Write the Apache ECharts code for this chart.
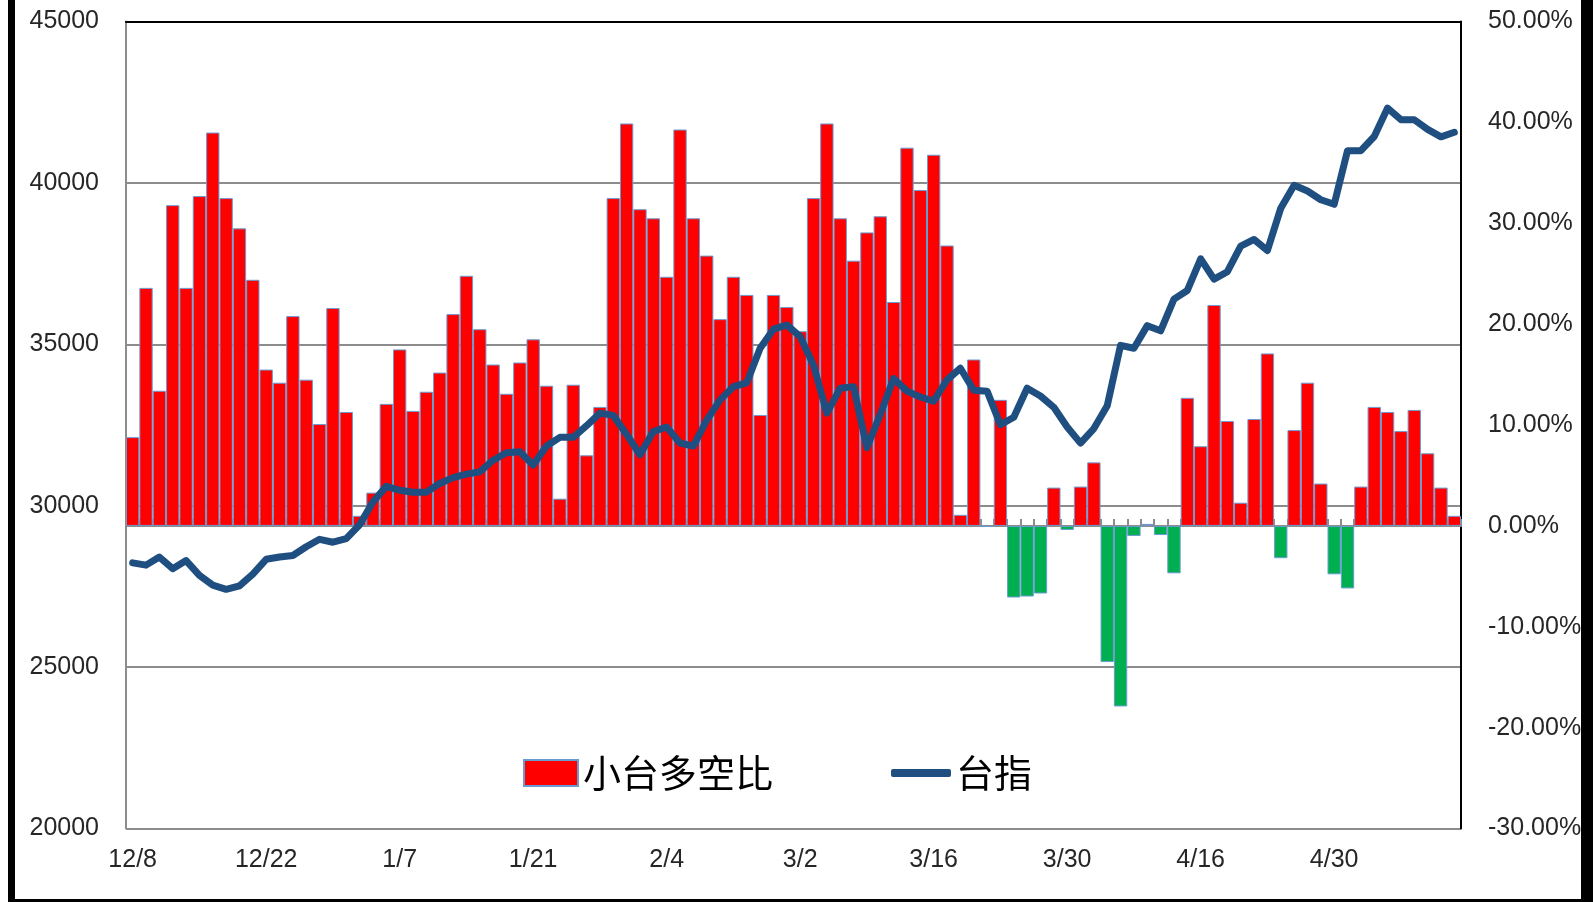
<!DOCTYPE html>
<html>
<head>
<meta charset="utf-8">
<title>小台多空比 vs 台指</title>
<script src="https://cdn.jsdelivr.net/npm/echarts@6/dist/echarts.min.js"></script>
<style>
  html, body { margin: 0; padding: 0; background: #fff; }
  #chart { position: absolute; left: 0; top: 0; width: 1593px; height: 902px; }
  /* outer frame: black on left, bottom and right */
  .frame { position: absolute; background: #000; pointer-events: none; }
</style>
</head>
<body>
<div id="chart"></div>
<div class="frame" style="left:8px; top:0; width:7px; height:902px;"></div>
<div class="frame" style="left:8px; top:899px; width:1585px; height:3px;"></div>
<div class="frame" style="left:1581px; top:0; width:12px; height:902px;"></div>
<script>
// trading days (category axis), a label every 10th day
const dates = [
  "12/8", "12/9", "12/10", "12/11", "12/12",
  "12/15", "12/16", "12/17", "12/18", "12/19",
  "12/22", "12/23", "12/24", "12/25", "12/26",
  "12/29", "12/30", "12/31", "1/5", "1/6",
  "1/7", "1/8", "1/9", "1/12", "1/13",
  "1/14", "1/15", "1/16", "1/19", "1/20",
  "1/21", "1/22", "1/23", "1/26", "1/27",
  "1/28", "1/29", "1/30", "2/2", "2/3",
  "2/4", "2/5", "2/6", "2/9", "2/10",
  "2/11", "2/23", "2/24", "2/25", "2/26",
  "3/2", "3/3", "3/4", "3/5", "3/6",
  "3/9", "3/10", "3/11", "3/12", "3/13",
  "3/16", "3/17", "3/18", "3/19", "3/20",
  "3/23", "3/24", "3/25", "3/26", "3/27",
  "3/30", "3/31", "4/1", "4/7", "4/8",
  "4/9", "4/10", "4/13", "4/14", "4/15",
  "4/16", "4/17", "4/20", "4/21", "4/22",
  "4/23", "4/24", "4/27", "4/28", "4/29",
  "4/30", "5/4", "5/5", "5/6", "5/7",
  "5/8", "5/11", "5/12", "5/13", "5/14"
];

// 小台多空比 (%), right axis
const ratio = [
  8.8, 23.6, 13.4, 31.8, 23.6, 32.7, 39.0, 32.5, 29.5, 24.4,
  15.5, 14.2, 20.8, 14.5, 10.1, 21.6, 11.3, 1.0, 3.3, 12.1,
  17.5, 11.4, 13.3, 15.2, 21.0, 24.8, 19.5, 16.0, 13.1, 16.2,
  18.5, 13.9, 2.7, 14.0, 7.0, 11.8, 32.5, 39.9, 31.4, 30.5,
  24.7, 39.3, 30.5, 26.8, 20.5, 24.7, 22.9, 11.0, 22.9, 21.7,
  19.3, 32.5, 39.9, 30.5, 26.3, 29.1, 30.7, 22.2, 37.5, 33.3,
  36.8, 27.8, 1.1, 16.5, -0.1, 12.5, -7.1, -7.0, -6.7, 3.8,
  -0.4, 3.9, 6.3, -13.5, -17.9, -1.0, 0.2, -0.9, -4.7, 12.7,
  7.9, 21.9, 10.4, 2.3, 10.6, 17.1, -3.2, 9.5, 14.2, 4.2,
  -4.8, -6.2, 3.9, 11.8, 11.3, 9.4, 11.5, 7.2, 3.8, 1.0
];

// 台指, left axis
const taiex = [
  28230, 28160, 28410, 28050, 28300, 27840, 27540, 27410, 27520, 27880,
  28340, 28410, 28460, 28730, 28960, 28870, 28980, 29410, 30120, 30600,
  30480, 30420, 30420, 30690, 30870, 30980, 31050, 31410, 31640, 31670,
  31260, 31850, 32120, 32120, 32480, 32870, 32800, 32210, 31580, 32300,
  32440, 31940, 31850, 32650, 33280, 33690, 33810, 34880, 35470, 35600,
  35240, 34350, 32870, 33640, 33690, 31800, 32830, 33940, 33550, 33370,
  33240, 33900, 34260, 33580, 33550, 32510, 32740, 33640, 33400, 33050,
  32440, 31940, 32390, 33100, 34970, 34880, 35580, 35420, 36400, 36670,
  37650, 37020, 37250, 38040, 38250, 37910, 39220, 39930, 39750, 39480,
  39340, 41000, 41000, 41440, 42320, 41960, 41960, 41660, 41430, 41570
];

const RED = "#FF0000";
const GREEN = "#00B050";
const NAVY = "#1F4E80";
const numFont = "'Liberation Sans', Arial, sans-serif";
const cjkFont = "'Noto Sans CJK TC', 'Noto Sans CJK SC', sans-serif";

const chart = echarts.init(document.getElementById("chart"), null, { renderer: "canvas" });

const option = {
  animation: false,
  backgroundColor: "#fff",
  grid: { left: 126, right: 132, top: 21.6, bottom: 73.5, containLabel: false },
  legend: [
    {
      data: [{ name: "小台多空比", icon: "rect" }],
      left: 518, top: 749,
      itemWidth: 54, itemHeight: 26,
      textStyle: { fontSize: 38, color: "#000", fontFamily: cjkFont }
    },
    {
      data: [{ name: "台指", icon: "roundRect", itemStyle: { color: NAVY } }],
      left: 886, top: 749,
      itemWidth: 60, itemHeight: 8,
      textStyle: { fontSize: 38, color: "#000", fontFamily: cjkFont }
    }
  ],
  xAxis: [
    {
      type: "category",
      data: dates,
      boundaryGap: true,
      axisLine: { lineStyle: { color: "#8c8c8c", width: 2 } },
      axisTick: { show: true, inside: true, interval: 0, length: 7, lineStyle: { color: "#8c8c8c", width: 2 } },
      axisLabel: { interval: 9, margin: 19, fontSize: 25, color: "#262626", fontFamily: numFont },
      splitLine: { show: false }
    },
    {
      // black top border of the plot
      type: "category",
      position: "top",
      data: dates,
      axisLine: { lineStyle: { color: "#000", width: 2 } },
      axisTick: { show: false },
      axisLabel: { show: false }
    }
  ],
  yAxis: [
    {
      type: "value",
      min: 20000, max: 45000, interval: 5000,
      axisLine: { show: true, lineStyle: { color: "#8c8c8c", width: 2 } },
      axisTick: { show: false },
      axisLabel: {
        margin: 27, fontSize: 25, color: "#262626", fontFamily: numFont,
        formatter: (v) => String(v)
      },
      splitLine: { show: true, lineStyle: { color: "#8c8c8c", width: 2 } }
    },
    {
      type: "value",
      position: "right",
      min: -30, max: 50, interval: 10,
      axisLine: { show: true, lineStyle: { color: "#000", width: 2 } },
      axisTick: { show: false },
      axisLabel: {
        margin: 27, fontSize: 25, color: "#262626", fontFamily: numFont,
        formatter: (v) => v.toFixed(2) + "%"
      },
      splitLine: { show: false }
    }
  ],
  series: [
    {
      name: "小台多空比",
      type: "bar",
      yAxisIndex: 1,
      barCategoryGap: "0%",
      itemStyle: { color: RED, borderColor: "#6C9BD2", borderWidth: 1 },
      data: ratio.map((v) => ({ value: v, itemStyle: { color: v < 0 ? GREEN : RED } }))
    },
    {
      name: "台指",
      type: "line",
      yAxisIndex: 0,
      symbol: "none",
      showSymbol: false,
      smooth: false,
      color: NAVY,
      lineStyle: { color: NAVY, width: 7, cap: "round", join: "round" },
      data: taiex,
      z: 5
    }
  ]
};

chart.setOption(option);
</script>
</body>
</html>
